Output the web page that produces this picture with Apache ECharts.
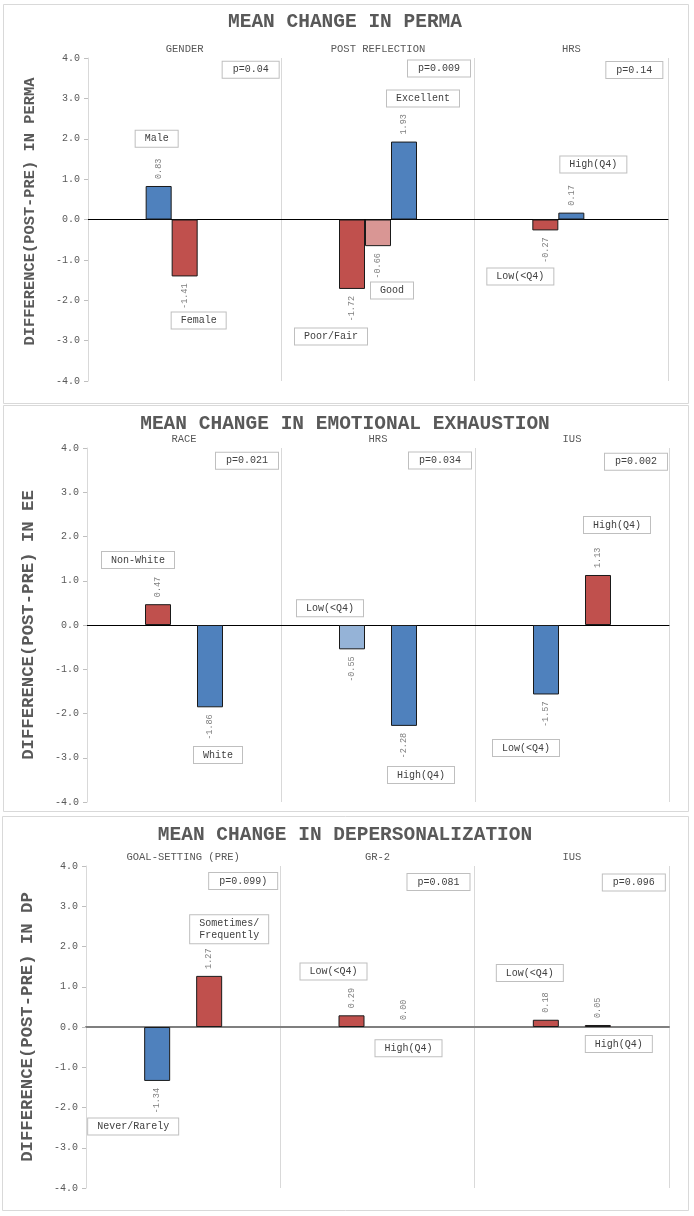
<!DOCTYPE html>
<html lang="en">
<head>
<meta charset="UTF-8">
<title>Mean change</title>
<script src="https://cdn.jsdelivr.net/npm/echarts@6/dist/echarts.min.js"></script>
<style>body{margin:0;background:#fff;}</style>
</head>
<body>
<div id="main" style="width:694px;height:1216px;"></div>
<script>
// ---- data: three bar slots per group (empty slot = null)
// PERMA
var permaGroups = ['GENDER', 'POST REFLECTION', 'HRS'];
var permaSlot1 = [0.83, -1.72, -0.27];
var permaSlot2 = [-1.41, -0.66, 0.17];
var permaSlot3 = [null, 1.93, null];
var permaNames1 = ['Male', 'Poor/Fair', 'Low(<Q4)'];
var permaNames2 = ['Female', 'Good', 'High(Q4)'];
var permaNames3 = [null, 'Excellent', null];
var permaP = ['p=0.04', 'p=0.009', 'p=0.14'];

// Emotional exhaustion
var eeGroups = ['RACE', 'HRS', 'IUS'];
var eeSlot1 = [0.47, -0.55, -1.57];
var eeSlot2 = [null, null, null];
var eeSlot3 = [-1.86, -2.28, 1.13];
var eeNames1 = ['Non-White', 'Low(<Q4)', 'Low(<Q4)'];
var eeNames2 = [null, null, null];
var eeNames3 = ['White', 'High(Q4)', 'High(Q4)'];
var eeP = ['p=0.021', 'p=0.034', 'p=0.002'];

// Depersonalization
var dpGroups = ['GOAL-SETTING (PRE)', 'GR-2', 'IUS'];
var dpSlot1 = [-1.34, 0.29, 0.18];
var dpSlot2 = [null, null, null];
var dpSlot3 = [1.27, 0.00, 0.05];
var dpNames1 = ['Never/Rarely', 'Low(<Q4)', 'Low(<Q4)'];
var dpNames2 = [null, null, null];
var dpNames3 = ['Sometimes/\nFrequently', 'High(Q4)', 'High(Q4)'];
var dpP = ['p=0.099)', 'p=0.081', 'p=0.096'];

// y axis ticks
var yMin = -4, yMax = 4, yStep = 1;

// ---- colours
var BLUE = '#4f81bd', RED = '#c0504d', PINK = '#d99694', LBLUE = '#95b3d7';
var permaColors = [[BLUE, RED, RED], [RED, PINK, BLUE], [null, BLUE, null]];
var eeColors = [[RED, LBLUE, BLUE], [null, null, null], [BLUE, BLUE, RED]];
var dpColors = [[BLUE, RED, RED], [null, null, null], [RED, RED, RED]];

// ---- where the text boxes sit: [px offset from group centre, y value]
var permaBoxAt = [
    [[-28, 2.0], [-47, -2.9], [-51, -1.41]],
    [[14, -2.5], [14, -1.76], [22, 1.36]],
    [null, [45, 3.0], null]
];
var permaPAt = [[66, 3.71], [61, 3.74], [63, 3.7]];
var eeBoxAt = [
    [[-46, 1.47], [-48, 0.38], [-46, -2.78]],
    [null, null, null],
    [[34, -2.94], [43, -3.39], [45, 2.26]]
];
var eePAt = [[63, 3.71], [62, 3.72], [64, 3.69]];
var dpBoxAt = [
    [[-50, -2.47], [-44, 1.38], [-42, 1.34]],
    [null, null, null],
    [[46, 2.43], [31, -0.53], [47, -0.42]]
];
var dpPAt = [[60, 3.63], [61, 3.6], [62, 3.59]];

var panels = [
    {title: 'MEAN CHANGE IN PERMA', yName: 'DIFFERENCE(POST-PRE) IN PERMA', nameSize: 15.4, namePad: [0, 0, 0, 16],
     groups: permaGroups, slots: [permaSlot1, permaSlot2, permaSlot3],
     names: [permaNames1, permaNames2, permaNames3], colors: permaColors, p: permaP,
     boxAt: permaBoxAt, pAt: permaPAt,
     grid: {left: 88, top: 58, width: 580, height: 323}, titleTop: 12, frame: [3, 4, 685, 399],
     zero: {color: '#000', width: 1}},
    {title: 'MEAN CHANGE IN EMOTIONAL EXHAUSTION', yName: 'DIFFERENCE(POST-PRE) IN EE', nameSize: 17.3, namePad: 0,
     groups: eeGroups, slots: [eeSlot1, eeSlot2, eeSlot3],
     names: [eeNames1, eeNames2, eeNames3], colors: eeColors, p: eeP,
     boxAt: eeBoxAt, pAt: eePAt,
     grid: {left: 87, top: 448, width: 582, height: 354}, titleTop: 414, frame: [3, 405, 685, 406],
     zero: {color: '#000', width: 1}},
    {title: 'MEAN CHANGE IN DEPERSONALIZATION', yName: 'DIFFERENCE(POST-PRE) IN DP', nameSize: 17.3, namePad: 0,
     groups: dpGroups, slots: [dpSlot1, dpSlot2, dpSlot3],
     names: [dpNames1, dpNames2, dpNames3], colors: dpColors, p: dpP,
     boxAt: dpBoxAt, pAt: dpPAt,
     grid: {left: 86, top: 866, width: 583, height: 322}, titleTop: 825, frame: [2, 816, 686, 394],
     zero: {color: '#7f7f7f', width: 2}}
];

var MONO = '"Liberation Mono", "Courier New", monospace';
var TXT = '#595959';

var myChart = echarts.init(document.getElementById('main'));

var titles = [], grids = [], xAxes = [], yAxes = [], series = [];
panels.forEach(function (pn, i) {
    titles.push({
        text: pn.title, left: 345, top: pn.titleTop, textAlign: 'center', padding: 0,
        textStyle: {fontFamily: MONO, fontWeight: 'bold', fontSize: 19.5, color: TXT}
    });
    grids.push(pn.grid);
    // bottom axis: zero line + group dividers
    xAxes.push({
        type: 'category', gridIndex: i, data: pn.groups, position: 'bottom',
        axisLine: {show: true, onZero: true, lineStyle: pn.zero},
        axisTick: {show: false}, axisLabel: {show: false},
        splitLine: {show: true, interval: 0, lineStyle: {color: '#d9d9d9', width: 1}}
    });
    // top axis: group names
    xAxes.push({
        type: 'category', gridIndex: i, data: pn.groups, position: 'top',
        axisLine: {show: false, onZero: false}, axisTick: {show: false}, splitLine: {show: false},
        axisLabel: {interval: 0, margin: 3, fontFamily: MONO, fontSize: 10.5, color: TXT}
    });
    yAxes.push({
        type: 'value', gridIndex: i, min: yMin, max: yMax, interval: yStep,
        name: pn.yName, nameLocation: 'middle', nameGap: 50,
        nameTextStyle: {fontFamily: MONO, fontWeight: 'bold', fontSize: pn.nameSize, color: TXT, padding: pn.namePad},
        axisLine: {show: true, lineStyle: {color: '#d9d9d9'}},
        axisTick: {show: true, length: 4, lineStyle: {color: '#bfbfbf'}},
        axisLabel: {margin: 8, fontFamily: MONO, fontSize: 10, color: TXT,
            formatter: function (v) { return v.toFixed(1); }},
        splitLine: {show: false}
    });
    pn.slots.forEach(function (vals, s) {
        series.push({
            type: 'bar', xAxisIndex: 2 * i, yAxisIndex: i,
            barWidth: 26, barGap: '0%',
            itemStyle: {borderColor: '#1a1a1a', borderWidth: 1},
            label: {
                show: true, rotate: 90, verticalAlign: 'middle', distance: 7,
                fontFamily: MONO, fontSize: 8.5, color: '#7f7f7f',
                formatter: function (p) { return Number(p.value).toFixed(2); }
            },
            data: vals.map(function (v, g) {
                if (v === null) return '-';
                return {
                    value: v,
                    itemStyle: {color: pn.colors[s][g], borderWidth: v === 0 ? 0 : 1},
                    label: {position: v < 0 ? 'bottom' : 'top', align: v < 0 ? 'right' : 'left'}
                };
            })
        });
    });
});

myChart.setOption({
    animation: false,
    backgroundColor: '#fff',
    title: titles,
    grid: grids,
    xAxis: xAxes,
    yAxis: yAxes,
    series: series
});

// text boxes placed from the data coordinates
function box(text, pt, padH) {
    return {
        type: 'text', x: pt[0], y: pt[1], z: 100,
        style: {
            text: text, font: '10px ' + MONO, fill: '#404040', align: 'center', verticalAlign: 'middle',
            lineHeight: 12, backgroundColor: '#fff', borderColor: '#bfbfbf', borderWidth: 1,
            padding: [2, padH]
        }
    };
}

var graphics = [];
panels.forEach(function (pn, i) {
    var f = pn.frame;
    graphics.push({type: 'rect', z: 0, silent: true,
        shape: {x: f[0] + 0.5, y: f[1] + 0.5, width: f[2], height: f[3]},
        style: {fill: null, stroke: '#d9d9d9', lineWidth: 1}});
    var finder = {seriesIndex: 3 * i};
    pn.names.forEach(function (row, s) {
        row.forEach(function (name, g) {
            var at = pn.boxAt[s][g];
            if (!name || !at) return;
            var pt = myChart.convertToPixel(finder, [g, at[1]]);
            graphics.push(box(name, [pt[0] + at[0], pt[1]], 9));
        });
    });
    pn.p.forEach(function (txt, g) {
        var at = pn.pAt[g];
        var pt = myChart.convertToPixel(finder, [g, at[1]]);
        graphics.push(box(txt, [pt[0] + at[0], pt[1]], 10));
    });
});
myChart.setOption({graphic: graphics});
</script>
</body>
</html>
